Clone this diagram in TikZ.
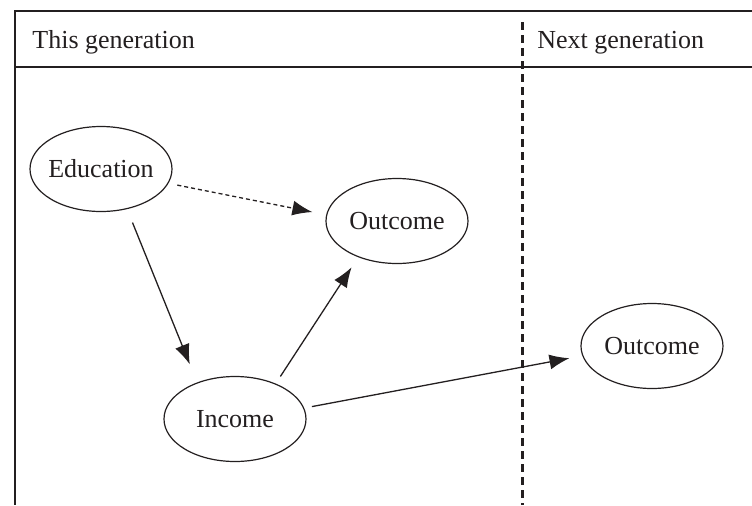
\documentclass[tikz,border=0pt]{standalone}
\usepackage{fontspec}
\setmainfont{Liberation Serif}
\usepackage{tikz}
\usetikzlibrary{arrows.meta,shapes.geometric}
\definecolor{ink}{RGB}{35,31,32}

\begin{document}
\begin{tikzpicture}[x=0.5pt,y=-0.5pt,
	var/.style={ellipse,draw=ink,line width=0.6pt,minimum width=71pt,minimum height=42.5pt,inner xsep=-2pt,inner ysep=0pt,font=\fontsize{13}{15}\selectfont,text=ink},
	link/.style={draw=ink,line width=0.65pt,-{Latex[length=10pt,width=7.5pt]}},
	head/.style={anchor=base west,inner sep=0pt,font=\fontsize{13}{15}\selectfont,text=ink},
	divider/.style={draw=ink,line width=1.5pt,dash pattern=on 4pt off 2.5pt}]
	\useasboundingbox (0,0) rectangle (752,505);
	
	\draw[ink,line width=0.65pt] (752,11) -- (15,11) -- (15,505);
	\draw[ink,line width=0.65pt] (15,67) -- (752,67);
	\draw[divider] (522,22) -- (522,505);
	
	\node[head] (this) at (32,48) {This generation};
	\node[head] (next) at (537,48) {Next generation};
	
	\node[var] (educ) at (101,169) {Education};
	\node[var] (out) at (397,221) {Outcome};
	\node[var] (inc) at (235,419) {Income};
	\node[var] (outnext) at (652,346) {Outcome};
	
	\draw[link,dash pattern=on 2pt off 1.5pt,shorten <=4.5pt,shorten >=7pt] (educ.-12) -- (out.175);
	\draw[link,shorten <=7.25pt,shorten >=9.75pt] (educ.-57) -- (inc.136);
	\draw[link,shorten <=4.25pt,shorten >=6pt] (inc.41) -- (out.223);
	\draw[link,shorten <=3.9pt,shorten >=6.5pt] (inc.9.7) -- (outnext.188.7);
\end{tikzpicture}
\end{document}
